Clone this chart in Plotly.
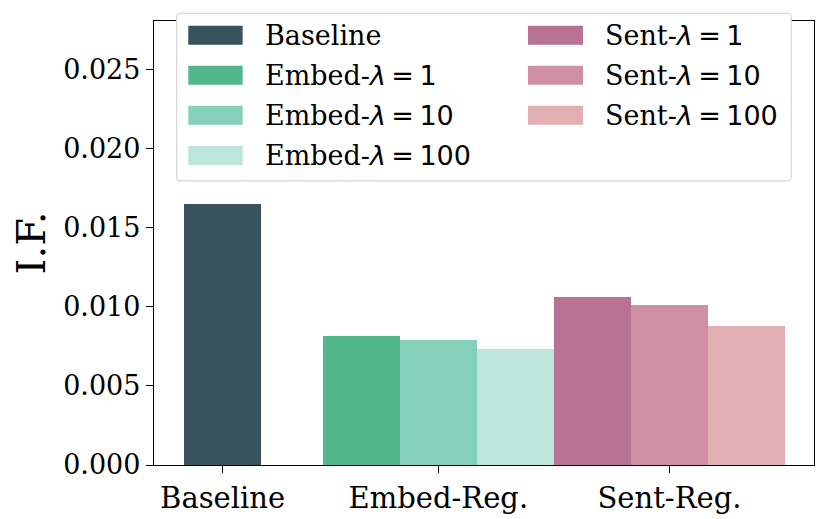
import plotly.graph_objects as go

# ---- data ----
groups = ["Baseline", "Embed-Reg.", "Sent-Reg."]
series = ["Baseline", "Embed-λ=1", "Embed-λ=10", "Embed-λ=100",
          "Sent-λ=1", "Sent-λ=10", "Sent-λ=100"]
series_group = [0, 1, 1, 1, 2, 2, 2]
values = [0.0165, 0.00818, 0.00787, 0.00736, 0.01061, 0.0101, 0.00879]
legend_prefix = ["Baseline", "Embed-", "Embed-", "Embed-", "Sent-", "Sent-", "Sent-"]
legend_lambda = [None, "1", "10", "100", "1", "10", "100"]
y_ticks = [0.0, 0.005, 0.010, 0.015, 0.020, 0.025]

# ---- style ----
colors = ["#37535d", "#52b78a", "#86d0b9", "#bce6dc",
          "#b87394", "#d08fa4", "#e2b0b3"]
FONT = "DejaVu Serif"
group_gap = [0.8, 0.0]   # gap after each group (in bar widths)

# bar positions
positions = []
x = 0.0
prev = series_group[0]
for g in series_group:
    if g != prev:
        x += group_gap[prev]
        prev = g
    positions.append(x)
    x += 1.0
group_centers = []
for gi in range(len(groups)):
    ps = [p for p, g in zip(positions, series_group) if g == gi]
    group_centers.append(sum(ps) / len(ps))

fig = go.Figure()
for name, p, v, c in zip(series, positions, values, colors):
    fig.add_trace(go.Bar(x=[p], y=[v], width=1.0, name=name,
                         marker=dict(color=c, line=dict(width=0)),
                         showlegend=False))

# page body adds an 8px offset; compensate so the screenshot lines up
OFF = 8
W, H = 830 - OFF, 519 - OFF
PLOT_X0, PLOT_X1, PLOT_Y0, PLOT_Y1 = 154, 814.5, 21, 465.3   # screen px
PW, PH = PLOT_X1 - PLOT_X0, PLOT_Y1 - PLOT_Y0
L, T = PLOT_X0 - OFF, PLOT_Y0 - OFF
R, B = W - L - PW, H - T - PH


def px(sx):
    return (sx - PLOT_X0) / PW


def py(sy):
    return (PLOT_Y1 - sy) / PH


# legend box (rounded)
x0, x1, y0, y1 = px(176.7), px(791.7), py(181), py(13.3)
rx, ry = 4 / PW, 4 / PH
path = (f"M{x0+rx},{y0} L{x1-rx},{y0} Q{x1},{y0} {x1},{y0+ry} "
        f"L{x1},{y1-ry} Q{x1},{y1} {x1-rx},{y1} L{x0+rx},{y1} "
        f"Q{x0},{y1} {x0},{y1-ry} L{x0},{y0+ry} Q{x0},{y0} {x0+rx},{y0} Z")
fig.add_shape(type="path", path=path, xref="paper", yref="paper",
              fillcolor="white", line=dict(color="#d6d6d6", width=1.2),
              layer="above")
annotations = []
col_patch_x = [(188.3, 242.7), (528.3, 583.3)]
col_text_x = [263, 603]
row_y = [35.2, 75.3, 115.3, 155.5]
for i in range(len(series)):
    col = 0 if series_group[i] <= 1 else 1
    row = i if col == 0 else i - 4
    cy = row_y[row]
    fig.add_shape(type="rect", xref="paper", yref="paper",
                  x0=px(col_patch_x[col][0]), x1=px(col_patch_x[col][1]),
                  y0=py(cy + 9.5), y1=py(cy - 9.5),
                  fillcolor=colors[i], line=dict(width=0), layer="above")
    if legend_lambda[i] is None:
        txt = legend_prefix[i]
    else:
        txt = (legend_prefix[i]
               + "<span style='font-family:DejaVu Sans'><i>λ</i>\u2009=\u2009"
               + legend_lambda[i] + "</span>")
    annotations.append(dict(text=txt, xref="paper", yref="paper",
                            x=px(col_text_x[col]), y=py(cy + 0.5),
                            xanchor="left", yanchor="middle", showarrow=False,
                            font=dict(family=FONT, size=27, color="black")))

fig.update_layout(
    width=W, height=H, autosize=False,
    margin=dict(l=L, r=R, t=T, b=B, pad=0),
    plot_bgcolor="white", paper_bgcolor="white",
    barmode="overlay", bargap=0,
    font=dict(family=FONT, size=27, color="black"),
    annotations=annotations,
    xaxis=dict(range=[-0.891, 7.676], tickvals=group_centers, ticktext=groups,
               ticks="outside", ticklen=7, tickwidth=1.2, tickcolor="black",
               showline=True, linecolor="black", linewidth=1.3, mirror=True,
               showgrid=False, zeroline=False, automargin=False,
               tickfont=dict(family=FONT, size=29, color="black")),
    yaxis=dict(range=[0, 0.02805], tickvals=y_ticks,
               ticktext=[f"{v:.3f}" for v in y_ticks],
               ticks="outside", ticklen=7, tickwidth=1.2, tickcolor="black",
               showline=True, linecolor="black", linewidth=1.3, mirror=True,
               showgrid=False, zeroline=False, automargin=False,
               tickfont=dict(family=FONT, size=27, color="black"),
               title=dict(text="I.F.", standoff=8,
                          font=dict(family=FONT, size=40, color="black"))),
)

fig.write_html("out.html")
